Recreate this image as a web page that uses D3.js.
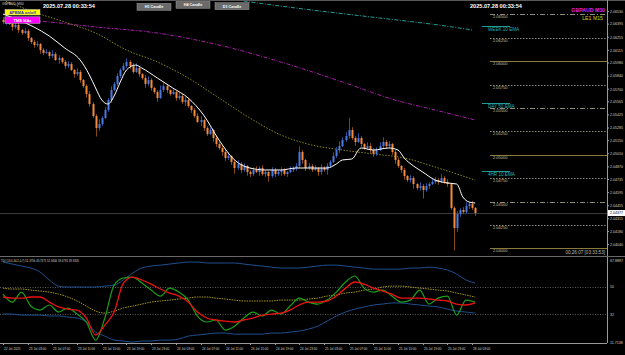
<!DOCTYPE html>
<html>
<head>
<meta charset="utf-8">
<script src="https://cdn.jsdelivr.net/npm/d3@7"></script>
<style>
  body { margin: 0; background: #000; }
  svg { display: block; }
</style>
</head>
<body>
<div id="chart"></div>
<script>
// ---- data ----
const firstOpen = 2.06440
const closes = [
  2.06418, 2.06439, 2.06397, 2.06365, 2.06386, 2.06333, 2.06300, 2.06322, 2.06247, 2.06204,
  2.06172, 2.06183, 2.06119, 2.06087, 2.06097, 2.06055, 2.06076, 2.06012, 2.06033, 2.05991,
  2.05948, 2.05969, 2.05905, 2.05862, 2.05884, 2.05798, 2.05734, 2.05649, 2.05542, 2.05414,
  2.05285, 2.05328, 2.05392, 2.05478, 2.05585, 2.05691, 2.05756, 2.05841, 2.05905, 2.05948,
  2.05991, 2.05948, 2.05884, 2.05926, 2.05862, 2.05820, 2.05756, 2.05798, 2.05713, 2.05670,
  2.05606, 2.05691, 2.05734, 2.05691, 2.05649, 2.05670, 2.05606, 2.05627, 2.05563, 2.05585,
  2.05521, 2.05478, 2.05414, 2.05350, 2.05371, 2.05285, 2.05221, 2.05264, 2.05179, 2.05115,
  2.05072, 2.05029, 2.04965, 2.04986, 2.04922, 2.04858, 2.04901, 2.04837, 2.04880, 2.04815,
  2.04794, 2.04837, 2.04815, 2.04858, 2.04794, 2.04815, 2.04773, 2.04837, 2.04794, 2.04815,
  2.04837, 2.04794, 2.04815, 2.04837, 2.04858, 2.04880, 2.05029, 2.04944, 2.04858, 2.04880,
  2.04837, 2.04858, 2.04815, 2.04858, 2.04837, 2.04880, 2.04922, 2.04986, 2.05050, 2.05093,
  2.05157, 2.05200, 2.05264, 2.05179, 2.05136, 2.05179, 2.05115, 2.05072, 2.05093, 2.05050,
  2.05008, 2.05050, 2.05093, 2.05136, 2.05093, 2.05115, 2.05029, 2.04944, 2.04880, 2.04837,
  2.04773, 2.04730, 2.04751, 2.04687, 2.04645, 2.04666, 2.04623, 2.04666, 2.04687, 2.04709,
  2.04730, 2.04709, 2.04751, 2.04709, 2.04687, 2.04431, 2.04217, 2.04367, 2.04409, 2.04388,
  2.04452, 2.04474, 2.04431, 2.04377
]
// wick lengths beyond the body, in pips
const highWick = [
  3, 2, 2, 1, 3, 2, 1, 3, 2, 1, 2, 3, 1, 2, 3, 1, 4, 2, 3, 1,
  2, 3, 2, 1, 4, 2, 1, 2, 3, 2, 2, 5, 2, 3, 2, 4, 2, 3, 2, 3,
  4, 2, 3, 5, 2, 1, 3, 4, 2, 1, 2, 5, 3, 2, 1, 3, 2, 4, 2, 3,
  2, 1, 2, 3, 4, 1, 2, 3, 1, 2, 2, 3, 2, 4, 1, 2, 4, 2, 3, 1,
  2, 3, 4, 2, 3, 2, 1, 3, 2, 2, 3, 2, 1, 4, 2, 3, 6, 2, 1, 3,
  2, 3, 1, 4, 2, 3, 2, 4, 3, 5, 3, 4, 13, 3, 2, 5, 2, 1, 4, 3,
  2, 3, 4, 5, 2, 3, 1, 2, 2, 1, 2, 1, 3, 2, 1, 4, 2, 3, 2, 3,
  3, 2, 4, 2, 3, 1, 2, 3, 2, 3, 4, 2, 3, 1
]
const lowWick = [
  2, 3, 1, 4, 2, 3, 2, 1, 3, 2, 3, 2, 4, 2, 1, 3, 2, 1, 4, 2,
  3, 2, 1, 4, 2, 3, 2, 4, 3, 2, 9, 3, 2, 1, 2, 3, 1, 2, 2, 1,
  2, 3, 2, 1, 3, 2, 4, 2, 3, 2, 4, 1, 2, 3, 2, 1, 3, 2, 2, 4,
  2, 3, 2, 1, 4, 3, 2, 1, 4, 3, 2, 4, 3, 2, 3, 6, 2, 3, 2, 4,
  3, 2, 1, 4, 2, 3, 6, 2, 3, 2, 4, 2, 3, 1, 2, 3, 2, 4, 3, 2,
  2, 1, 4, 3, 2, 5, 2, 1, 2, 3, 1, 2, 3, 2, 4, 1, 3, 2, 2, 3,
  3, 2, 1, 2, 3, 2, 3, 4, 2, 3, 4, 2, 3, 5, 2, 3, 9, 2, 3, 1,
  2, 3, 1, 2, 3, 2, 24, 4, 3, 2, 2, 3, 2, 3
]

// moving averages: bar index + price
const whiteIdx = [0, 5, 10, 15, 20, 25, 28, 30, 32, 34, 36, 38, 40, 43, 45, 50, 55, 60, 65, 70, 75, 80, 85, 90, 95, 100, 105, 108, 110, 113, 116, 120, 125, 128, 130, 133, 136, 140, 144, 147, 149, 151, 153]
const whiteVal = [2.06503, 2.06439, 2.06365, 2.06268, 2.06140, 2.06012, 2.05852, 2.05713, 2.05585, 2.05542, 2.05627, 2.05777, 2.05905, 2.05958, 2.05926, 2.05820, 2.05713, 2.05606, 2.05424, 2.05157, 2.04944, 2.04858, 2.04837, 2.04837, 2.04858, 2.04858, 2.04858, 2.04901, 2.04944, 2.04954, 2.05072, 2.05050, 2.05072, 2.05050, 2.04965, 2.04880, 2.04815, 2.04730, 2.04698, 2.04687, 2.04548, 2.04495, 2.04484]
const oliveIdx = [0, 10, 20, 30, 40, 50, 60, 70, 80, 90, 100, 110, 120, 130, 140, 150, 153]
const oliveVal = [2.06653, 2.06525, 2.06418, 2.06300, 2.06119, 2.05991, 2.05820, 2.05606, 2.05392, 2.05211, 2.05104, 2.05050, 2.05008, 2.04965, 2.04869, 2.04762, 2.04730]
const magentaIdx = [0, 15, 30, 50, 70, 90, 110, 127, 140, 153]
const magentaVal = [2.06461, 2.06418, 2.06365, 2.06300, 2.06172, 2.05991, 2.05777, 2.05585, 2.05478, 2.05371]
const tealIdx = [60, 78, 100, 122, 141, 152]
const tealVal = [2.06738, 2.06642, 2.06546, 2.06461, 2.06386, 2.06333]

// horizontal levels on the right
const levelPrices = [2.065, 2.0625, 2.06, 2.0575, 2.055, 2.0525, 2.05, 2.0475, 2.045, 2.0425, 2.04]
const levelKinds = ['dashdot', 'dot', 'solid', 'dot', 'dashdot', 'dot', 'solid', 'dot', 'dashdot', 'dot', 'solid']
const emaNames = ['WEEK 10 EMA', 'DAY 50 EMA', '4HR 10 EMA']
const emaPrices = [2.06378, 2.05553, 2.04826]

const priceTicks = [2.06530, 2.06395, 2.06255, 2.06115, 2.05980, 2.05840, 2.05700, 2.05565, 2.05425, 2.05285,
  2.05150, 2.05010, 2.04870, 2.04735, 2.04595, 2.04455, 2.04315, 2.04180, 2.04040]
const bidPrice = 2.04377

const timeIdx = [0, 8, 16, 24, 32, 40, 48, 56, 64, 72, 80, 88, 96, 104, 112, 120, 128, 136, 144, 152]
const timeLabels = ['22 Jul 2025', '23 Jul 03:00', '23 Jul 07:00', '23 Jul 11:00', '23 Jul 15:00', '23 Jul 19:00',
  '23 Jul 23:00', '24 Jul 03:00', '24 Jul 07:00', '24 Jul 11:00', '24 Jul 15:00', '24 Jul 19:00', '24 Jul 23:00',
  '25 Jul 03:00', '25 Jul 07:00', '25 Jul 11:00', '25 Jul 15:00', '25 Jul 19:00', '25 Jul 23:00', '28 Jul 03:00']

// TDI, sampled every 3 bars
const tdiIdx = d3.range(0, 154, 3)
const tdiGreen = [45.2, 40.0, 46.5, 37.4, 34.8, 38.1, 33.5, 36.1, 32.2, 27.0, 15.2, 29.6, 51.1, 55.7, 56.3, 52.4, 47.8, 43.9,
  49.1, 46.5, 41.3, 30.9, 27.0, 28.3, 21.8, 24.3, 29.6, 33.5, 30.9, 34.8, 32.2, 37.4, 42.6, 40.0, 38.7, 41.3, 46.5, 53.1,
  57.0, 49.1, 46.5, 47.8, 43.9, 40.0, 41.3, 47.8, 38.7, 42.6, 43.9, 31.5, 41.3, 40.0]
const tdiRed = [43.3, 42.6, 42.6, 43.3, 43.3, 40.0, 36.8, 35.4, 34.8, 29.6, 18.5, 25.0, 33.5, 52.4, 56.3, 54.4, 51.7, 48.5,
  45.9, 43.9, 40.0, 33.5, 29.6, 28.3, 27.6, 27.0, 28.3, 29.6, 31.5, 32.2, 32.8, 34.8, 38.1, 40.0, 40.0, 40.7, 43.9, 49.1,
  53.1, 51.7, 49.1, 47.2, 45.2, 42.6, 42.6, 42.6, 42.0, 41.3, 40.7, 38.7, 38.1, 39.4]
const tdiMid = [49.1, 48.5, 48.5, 47.8, 47.2, 46.5, 45.2, 43.3, 40.7, 37.4, 34.1, 32.8, 34.1, 36.1, 37.4, 38.7, 40.0, 40.7,
  41.3, 42.0, 42.6, 43.3, 43.3, 42.6, 42.0, 41.3, 40.7, 40.7, 40.7, 40.7, 41.3, 41.3, 41.3, 42.0, 42.6, 43.9, 44.6, 45.9,
  46.5, 47.8, 48.5, 49.8, 50.4, 50.4, 49.8, 49.1, 48.5, 47.8, 47.2, 45.9, 44.6, 43.3]
const tdiUpper = [66.1, 64.8, 63.5, 62.2, 59.6, 54.4, 50.4, 49.8, 49.8, 49.8, 49.8, 50.4, 51.1, 54.4, 58.9, 62.2, 63.5, 64.1,
  64.8, 65.5, 66.1, 66.1, 65.5, 65.5, 65.5, 65.5, 64.8, 64.1, 63.5, 62.8, 62.2, 62.2, 62.2, 62.8, 63.5, 64.1, 64.1, 63.5,
  62.8, 62.2, 61.5, 61.5, 61.5, 61.5, 62.2, 62.2, 62.8, 62.2, 60.9, 58.3, 54.4, 52.4]
const tdiLower = [32.2, 32.2, 31.5, 31.5, 31.5, 30.9, 30.9, 30.2, 29.6, 27.0, 20.4, 17.8, 15.2, 14.6, 13.9, 14.6, 14.6, 15.2,
  15.2, 15.9, 17.8, 18.5, 19.1, 19.8, 19.8, 19.1, 19.1, 19.1, 19.1, 19.8, 19.8, 20.4, 21.1, 22.4, 24.3, 27.6, 30.9, 33.5,
  35.4, 36.8, 38.1, 38.7, 39.4, 39.4, 38.7, 38.1, 37.4, 36.8, 35.4, 34.1, 33.5, 32.8]
const tdiLevels = [50, 32]
const tdiTicks = [67.8887, 50, 32, 11.7138]
const tdiCaption = 'TDI (13,0,34,2,0,7) 51.3756 43.7371 52.9406 39.4781 39.9326'

// ---- layout ----
const W = 625
const H = 355
const PLOT_R = 607
const MAIN_B = 256
const IND_T = 257
const IND_B = 343
const FONT = 'Liberation Sans, Arial, sans-serif'

const svg = d3.select('#chart').append('svg').attr('width', W).attr('height', H)
svg.append('rect').attr('width', W).attr('height', H).attr('fill', '#000000')

svg.append('defs').append('clipPath').attr('id', 'mainClip')
  .append('rect').attr('x', 0).attr('y', 0).attr('width', PLOT_R).attr('height', MAIN_B)

const x = d3.scaleLinear().domain([0, 153]).range([3, 475.2])
const y = d3.scaleLinear().domain([2.03918, 2.06653]).range([MAIN_B, 0])
const yT = d3.scaleLinear().domain([13.3, 69.4]).range([IND_B, IND_T])

const main = svg.append('g').attr('clip-path', 'url(#mainClip)')

// bid line
main.append('line')
  .attr('x1', 0).attr('x2', PLOT_R)
  .attr('y1', y(bidPrice) + 0.5).attr('y2', y(bidPrice) + 0.5)
  .attr('stroke', '#3a3a3a').attr('stroke-width', 1)

// level lines on the right
const dashFor = { solid: null, dot: '1.5 1.5', dashdot: '5 2 1 2' }
const colorFor = { solid: '#8a7b3c', dot: '#b5b09a', dashdot: '#b5b09a' }
levelPrices.forEach((p, k) => {
  const kind = levelKinds[k]
  main.append('line')
    .attr('x1', 490).attr('x2', PLOT_R)
    .attr('y1', Math.round(y(p)) + 0.5).attr('y2', Math.round(y(p)) + 0.5)
    .attr('stroke', colorFor[kind])
    .attr('stroke-width', kind === 'solid' ? 1 : 0.8)
    .attr('stroke-dasharray', dashFor[kind])
  main.append('text')
    .attr('x', 493).attr('y', Math.round(y(p)) + 3.5)
    .attr('fill', '#c9c2a2')
    .attr('font-family', FONT).attr('font-size', 4)
    .text(p.toFixed(5))
})

// moving averages
const lineFrom = (idx, vals, ys) => d3.line().x((d) => x(d)).y((d, k) => ys(vals[k])).curve(d3.curveMonotoneX)(idx)

main.append('path').attr('d', lineFrom(tealIdx, tealVal, y))
  .attr('fill', 'none').attr('stroke', '#1f9e9a').attr('stroke-width', 1).attr('stroke-dasharray', '4 1.5 1 1.5')
main.append('path').attr('d', lineFrom(magentaIdx, magentaVal, y))
  .attr('fill', 'none').attr('stroke', '#a51fa5').attr('stroke-width', 1).attr('stroke-dasharray', '4 1.5 1 1.5')
main.append('path').attr('d', lineFrom(oliveIdx, oliveVal, y))
  .attr('fill', 'none').attr('stroke', '#8c8a1e').attr('stroke-width', 1).attr('stroke-dasharray', '1.5 1.5')

// candles
const candles = main.append('g')
closes.forEach((c, i) => {
  const o = i === 0 ? firstOpen : closes[i - 1]
  const up = c >= o
  const hi = Math.max(o, c) + highWick[i] * 0.0001
  const lo = Math.min(o, c) - lowWick[i] * 0.0001
  const cx = Math.round(x(i))
  candles.append('line')
    .attr('x1', cx + 0.5).attr('x2', cx + 0.5)
    .attr('y1', y(hi)).attr('y2', y(lo))
    .attr('stroke', up ? '#2c4f9e' : '#8a4a1c').attr('stroke-width', 1)
  const top = y(Math.max(o, c))
  candles.append('rect')
    .attr('x', cx - 0.5).attr('y', top)
    .attr('width', 2).attr('height', Math.max(1, y(Math.min(o, c)) - top))
    .attr('fill', up ? '#4a7be0' : '#f58a3e')
})

main.append('path').attr('d', lineFrom(whiteIdx, whiteVal, y))
  .attr('fill', 'none').attr('stroke', '#ffffff').attr('stroke-width', 1)

// EMA tags
emaNames.forEach((name, k) => {
  const yy = Math.round(y(emaPrices[k])) + 0.5
  main.append('line').attr('x1', 482).attr('x2', 510).attr('y1', yy).attr('y2', yy)
    .attr('stroke', '#1f9e9a').attr('stroke-width', 1)
  main.append('text').attr('x', 488).attr('y', yy + 4.5)
    .attr('fill', '#22b3ad').attr('font-family', FONT).attr('font-size', 4.6)
    .text(name)
})

// frames
svg.append('line').attr('x1', 0).attr('x2', W).attr('y1', 0.5).attr('y2', 0.5).attr('stroke', '#5a5a5a')
svg.append('line').attr('x1', PLOT_R + 0.5).attr('x2', PLOT_R + 0.5).attr('y1', 0).attr('y2', IND_B)
  .attr('stroke', '#9a9a9a').attr('stroke-width', 1)
svg.append('line').attr('x1', 0).attr('x2', W).attr('y1', MAIN_B + 0.5).attr('y2', MAIN_B + 0.5)
  .attr('stroke', '#6a6a6a')
svg.append('line').attr('x1', 0).attr('x2', PLOT_R).attr('y1', IND_B + 0.5).attr('y2', IND_B + 0.5)
  .attr('stroke', '#9a9a9a')

// price axis
priceTicks.forEach((p) => {
  const yy = y(p)
  svg.append('line').attr('x1', PLOT_R).attr('x2', PLOT_R + 2).attr('y1', yy).attr('y2', yy).attr('stroke', '#9a9a9a')
  svg.append('text').attr('x', 610).attr('y', yy + 1.3)
    .attr('fill', '#cfcfcf').attr('font-family', FONT).attr('font-size', 3.6)
    .text(p.toFixed(5))
})
svg.append('rect').attr('x', 608).attr('y', y(bidPrice) - 3).attr('width', 17).attr('height', 6).attr('fill', '#ffffff')
svg.append('text').attr('x', 610).attr('y', y(bidPrice) + 1.3)
  .attr('fill', '#000000').attr('font-family', FONT).attr('font-size', 3.6).text(bidPrice.toFixed(5))

// indicator panel
const ind = svg.append('g')
tdiLevels.forEach((v) => {
  ind.append('line').attr('x1', 0).attr('x2', PLOT_R)
    .attr('y1', Math.round(yT(v)) + 0.5).attr('y2', Math.round(yT(v)) + 0.5)
    .attr('stroke', '#6f6f6f').attr('stroke-width', 0.8).attr('stroke-dasharray', '1 1.5')
})
const tdiLine = (vals) => d3.line().x((d) => x(d)).y((d, k) => yT(vals[k])).curve(d3.curveMonotoneX)(tdiIdx)
ind.append('path').attr('d', tdiLine(tdiUpper)).attr('fill', 'none').attr('stroke', '#1f4f8f').attr('stroke-width', 1)
ind.append('path').attr('d', tdiLine(tdiLower)).attr('fill', 'none').attr('stroke', '#1f4f8f').attr('stroke-width', 1)
ind.append('path').attr('d', tdiLine(tdiMid)).attr('fill', 'none').attr('stroke', '#a69a1c').attr('stroke-width', 1)
  .attr('stroke-dasharray', '1.5 1')
ind.append('path').attr('d', tdiLine(tdiGreen)).attr('fill', 'none').attr('stroke', '#1aa01a').attr('stroke-width', 1.2)
ind.append('path').attr('d', tdiLine(tdiRed)).attr('fill', 'none').attr('stroke', '#ee1111').attr('stroke-width', 1.3)

ind.append('text').attr('x', 1).attr('y', 262)
  .attr('fill', '#cfcfcf').attr('font-family', FONT).attr('font-size', 2.8)
  .text(tdiCaption)
tdiTicks.forEach((v, k) => {
  const yy = k === 0 ? IND_T + 4 : k === tdiTicks.length - 1 ? IND_B : yT(v)
  svg.append('text').attr('x', 610).attr('y', yy + 1.3)
    .attr('fill', '#cfcfcf').attr('font-family', FONT).attr('font-size', 3.6)
    .text(v)
})

// time axis
timeIdx.forEach((i, k) => {
  const xx = Math.round(x(i)) + 0.5
  svg.append('line').attr('x1', xx).attr('x2', xx).attr('y1', IND_B).attr('y2', IND_B + 2).attr('stroke', '#9a9a9a')
  svg.append('text').attr('x', xx + 0.5).attr('y', IND_B + 6.5)
    .attr('fill', '#cfcfcf').attr('font-family', FONT).attr('font-size', 3.2)
    .text(timeLabels[k])
})

// header texts and buttons
svg.append('text').attr('x', 2).attr('y', 5).attr('fill', '#cfcfcf')
  .attr('font-family', FONT).attr('font-size', 3.4).text('GBPAUD,M30')
svg.append('rect').attr('x', 5).attr('y', 9.5).attr('width', 35).attr('height', 5.5)
  .attr('fill', '#ffff00').attr('stroke', '#c8c8c8').attr('stroke-width', 0.5)
svg.append('text').attr('x', 22.5).attr('y', 13.7).attr('text-anchor', 'middle').attr('fill', '#3030c0')
  .attr('font-family', FONT).attr('font-size', 4).attr('font-weight', 'bold').text('APBMA on/off')
svg.append('rect').attr('x', 5).attr('y', 16.8).attr('width', 35).attr('height', 6.5)
  .attr('fill', '#ff00ff').attr('stroke', '#c8c8c8').attr('stroke-width', 0.5)
svg.append('text').attr('x', 22.5).attr('y', 21.5).attr('text-anchor', 'middle').attr('fill', '#ffffff')
  .attr('font-family', FONT).attr('font-size', 4).attr('font-weight', 'bold').text('TMS MAs')

svg.append('text').attr('x', 43).attr('y', 8).attr('fill', '#ffffff')
  .attr('font-family', FONT).attr('font-size', 5.6).attr('font-weight', 'bold').text('2025.07.28 00:33:54')
svg.append('text').attr('x', 470).attr('y', 8).attr('fill', '#ffffff')
  .attr('font-family', FONT).attr('font-size', 5.6).attr('font-weight', 'bold').text('2025.07.28 00:33:54')

const buttons = ['H1 Candle', 'H4 Candle', 'D1 Candle']
const buttonX = [137, 176, 215]
const buttonY = [3.3, 1.3, 2.7]
buttons.forEach((b, k) => {
  svg.append('rect').attr('x', buttonX[k]).attr('y', buttonY[k]).attr('width', 34).attr('height', 7)
    .attr('fill', '#6a6a6a').attr('stroke', '#9a9a9a').attr('stroke-width', 0.5)
  svg.append('text').attr('x', buttonX[k] + 17).attr('y', buttonY[k] + 5)
    .attr('text-anchor', 'middle').attr('fill', '#ffffff')
    .attr('font-family', FONT).attr('font-size', 3.8).attr('font-weight', 'bold').text(b)
})

svg.append('text').attr('x', 605).attr('y', 12).attr('text-anchor', 'end').attr('fill', '#e020e0')
  .attr('font-family', FONT).attr('font-size', 5.2).attr('font-weight', 'bold').text('GBPAUD M30')
svg.append('text').attr('x', 603).attr('y', 19.5).attr('text-anchor', 'end').attr('fill', '#d8d020')
  .attr('font-family', FONT).attr('font-size', 5.2).text('LE1 M15')

svg.append('text').attr('x', 605).attr('y', 253.5).attr('text-anchor', 'end').attr('fill', '#b8b8b8')
  .attr('font-family', FONT).attr('font-size', 4.6).text('00:26:07 [03:33:53]')
</script>
</body>
</html>
